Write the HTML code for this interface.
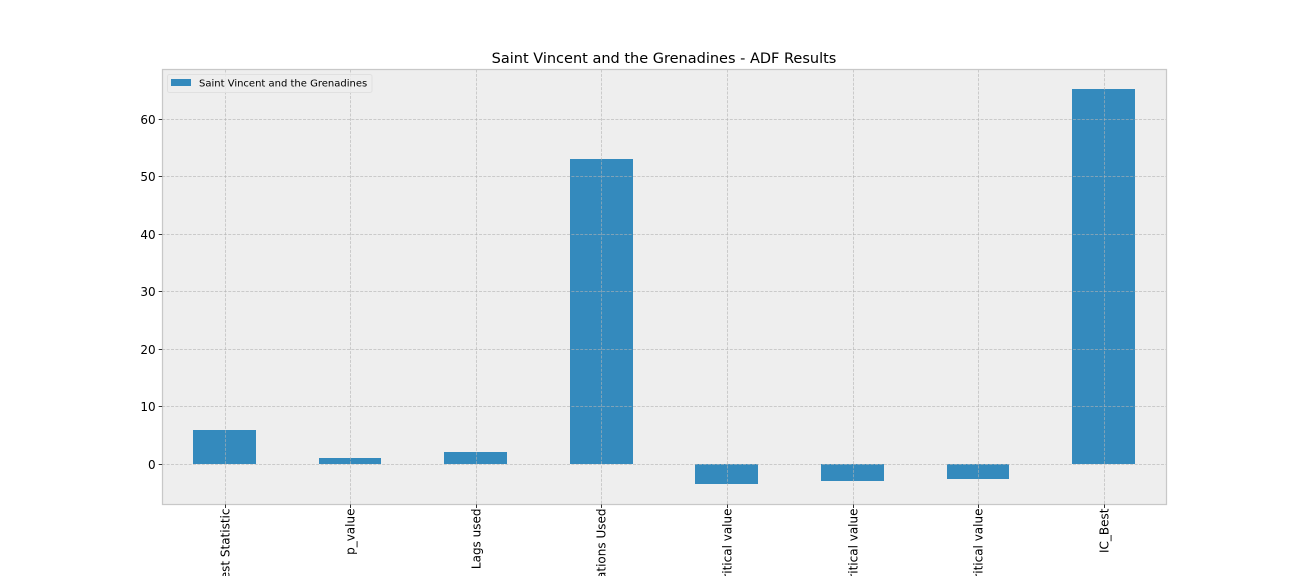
<!DOCTYPE html>
<html lang="en">
<head>
<meta charset="utf-8">
<title>Saint Vincent and the Grenadines - ADF Results</title>
<style>
html,body{margin:0;padding:0;background:#fff;width:1296px;height:576px;overflow:hidden}
svg{display:block}
text{font-family:"DejaVu Sans",sans-serif;fill:#000}
</style>
</head>
<body>
<svg id="chart" width="1296" height="576" viewBox="0 0 1296 576" xmlns="http://www.w3.org/2000/svg">
  <rect x="162.5" y="69.5" width="1004" height="435" fill="#eeeeee"/>
  <g id="bars" shape-rendering="crispEdges"></g>
  <g id="grid"></g>
  <rect x="162.5" y="69.5" width="1004" height="435" fill="none" stroke="#c8c8c8" stroke-width="1.25"/>
  <g id="ticks"></g>
  <text x="664" y="63" font-size="14.5" text-anchor="middle">Saint Vincent and the Grenadines - ADF Results</text>
  <g>
    <rect x="167.5" y="74.5" width="204.5" height="18" rx="2" fill="#eeeeee" fill-opacity="0.8" stroke="#e0e0e0" stroke-width="1"/>
    <rect x="171" y="79" width="20" height="7" fill="#348ABD"/>
    <text x="199" y="86.5" font-size="10">Saint Vincent and the Grenadines</text>
  </g>
</svg>
<script>
const categories = ["Test Statistic", "p_value", "Lags used", "Observations Used", "1% Critical value", "5% Critical value", "10% Critical value", "IC_Best"];
const seriesValues = [5.9, 1.0, 2.0, 53.0, -3.5, -2.95, -2.6, 65.2];
const yTicks = [0, 10, 20, 30, 40, 50, 60];

const NS = "http://www.w3.org/2000/svg";
const plotLeft = 162.2, plotRight = 1167, plotTop = 69.5, plotBottom = 504.5;
const step = (plotRight - plotLeft) / categories.length;
const xCenter = i => plotLeft + step * (i + 0.5);
const yScale = v => 464 - v * 5.75;
const gridStyle = { stroke: "#b2b2b2", "stroke-opacity": 0.6, "stroke-width": 1, "stroke-dasharray": "3 1.4" };
const make = (tag, parent, props) => {
  const el = document.createElementNS(NS, tag);
  for (const k in props) el.setAttribute(k, props[k]);
  parent.appendChild(el);
  return el;
};
const barsG = document.getElementById("bars");
const gridG = document.getElementById("grid");
const ticksG = document.getElementById("ticks");
const svgRoot = document.getElementById("chart");

seriesValues.forEach((v, i) => {
  const w = step * 0.5;
  const x0 = Math.floor(xCenter(i) - w / 2), x1 = Math.floor(xCenter(i) + w / 2);
  const y0 = Math.round(yScale(0) - 0.1), y1 = Math.round(yScale(v) - 0.1);
  const bar = make("rect", barsG, { x: x0, y: Math.min(y0, y1), width: x1 - x0, height: Math.abs(y1 - y0), fill: "#348ABD" });
  
  
});

categories.forEach((c, i) => {
  const x = Math.floor(xCenter(i)) + 0.5;
  const g = make("line", gridG, { x1: x, x2: x, y1: plotTop, y2: plotBottom, ...gridStyle });
  
  
  const t = make("line", ticksG, { x1: x, x2: x, y1: plotBottom, y2: plotBottom + 3.5, stroke: "#000", "stroke-width": 0.8 });
  
  
  const label = make("text", svgRoot, { "font-size": 12, "text-anchor": "end", transform: `translate(${x + 4},508.5) rotate(-90)` });
  label.textContent = c;
  
  
});

yTicks.forEach(v => {
  const y = Math.floor(yScale(v)) + 0.5;
  const g = make("line", gridG, { x1: plotLeft, x2: plotRight - 0.5, y1: y, y2: y, ...gridStyle });
  
  
  const t = make("line", ticksG, { x1: plotLeft - 3.5, x2: plotLeft, y1: y, y2: y, stroke: "#000", "stroke-width": 0.8 });
  
  
  const label = make("text", svgRoot, { x: plotLeft - 6.5, y: y + 4.5, "font-size": 12, "text-anchor": "end" });
  label.textContent = v;
  
  
});
</script>
</body>
</html>
